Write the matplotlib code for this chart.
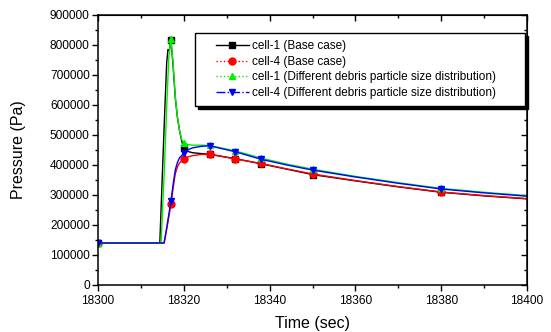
import matplotlib
matplotlib.use("Agg")
import matplotlib.pyplot as plt
from matplotlib.lines import Line2D
from matplotlib.legend_handler import HandlerLine2D
from matplotlib.ticker import MultipleLocator, FormatStrFormatter

plt.rcParams["font.family"] = ["Liberation Sans", "DejaVu Sans"]

# sample times where symbols are drawn
mark_t = [18300, 18317, 18320, 18326, 18332, 18338, 18350, 18380]

# cell-1, base case
t_c1_base = [18300, 18314.4, 18315, 18315.5, 18316, 18316.3, 18316.6, 18317,
             18317.5, 18318, 18318.5, 18319, 18319.5, 18320, 18321, 18322,
             18324, 18326, 18332, 18338, 18344, 18350, 18360, 18370, 18380,
             18390, 18400]
p_c1_base = [140000, 140000, 370000, 560000, 740000, 785000, 780000, 815000,
             730000, 625000, 560000, 515000, 480000, 455000, 445000, 441000,
             438000, 436000, 421000, 404000, 386000, 368000, 347000, 327000,
             309000, 297000, 287000]

# cell-4, base case
t_c4_base = [18300, 18315.4, 18316, 18317, 18317.5, 18318, 18318.5, 18319,
             18320, 18321, 18322, 18324, 18326, 18332, 18338, 18344, 18350,
             18360, 18370, 18380, 18390, 18400]
p_c4_base = [140000, 140000, 185000, 269000, 322000, 370000, 393000, 407000,
             419000, 427000, 431000, 435000, 435500, 420000, 405000, 387000,
             370000, 348000, 328000, 310000, 298000, 288000]

# cell-1, different debris particle size distribution
t_c1_psd = [18300, 18314.7, 18315.5, 18316, 18316.5, 18317, 18317.5, 18318,
            18318.5, 18319, 18319.5, 18320, 18321, 18322, 18324, 18326,
            18332, 18338, 18344, 18350, 18360, 18370, 18380, 18390, 18400]
p_c1_psd = [140000, 140000, 400000, 590000, 760000, 820000, 740000, 630000,
            560000, 515000, 485000, 474000, 468000, 466000, 466000, 465000,
            447000, 423000, 403000, 386000, 362000, 341000, 322000, 309000,
            298000]

# cell-4, different debris particle size distribution
t_c4_psd = [18300, 18315.4, 18316, 18317, 18317.5, 18318, 18318.5, 18319,
            18320, 18321, 18322, 18324, 18326, 18332, 18338, 18344, 18350,
            18360, 18370, 18380, 18390, 18400]
p_c4_psd = [140000, 140000, 190000, 280000, 335000, 383000, 408000, 424000,
            439000, 451000, 457000, 462000, 464000, 444000, 419000, 400000,
            383000, 360000, 339000, 320000, 307000, 296000]

labels = ["cell-1 (Base case)",
          "cell-4 (Base case)",
          "cell-1 (Different debris particle size distribution)",
          "cell-4 (Different debris particle size distribution)"]


def marks(t):
    return [i for i, v in enumerate(t) if v in mark_t]


fig = plt.figure(figsize=(5.51, 3.32), dpi=100)
ax = fig.add_axes([0.1779, 0.1416, 0.7786, 0.8133])

# (times, values, colour, legend line style, marker)
series = [
    (t_c1_base, p_c1_base, "black", "-", "s"),
    (t_c4_base, p_c4_base, "red", ":", "o"),
    (t_c1_psd, p_c1_psd, "#00ee00", ":", "^"),
    (t_c4_psd, p_c4_psd, "blue", "-.", "v"),
]
handles = []
for t, p, c, ls, m in series:
    # the traces are densely sampled, so on the plot they read as solid
    ax.plot(t, p, color=c, linestyle="-", linewidth=1.0, marker=m,
            markersize=5, markevery=marks(t), markerfacecolor=c,
            markeredgecolor=c)
    handles.append(Line2D([], [], color=c, linestyle=ls, linewidth=1.0,
                          marker=m, markersize=5, markerfacecolor=c,
                          markeredgecolor=c))

ax.set_xlim(18300, 18400)
ax.set_ylim(0, 900000)
ax.xaxis.set_major_locator(MultipleLocator(20))
ax.xaxis.set_minor_locator(MultipleLocator(10))
ax.yaxis.set_major_locator(MultipleLocator(100000))
ax.yaxis.set_minor_locator(MultipleLocator(50000))
ax.yaxis.set_major_formatter(FormatStrFormatter("%d"))
ax.xaxis.set_major_formatter(FormatStrFormatter("%d"))
ax.tick_params(which="both", direction="out", labelsize=8.6, width=1,
               pad=2, colors="black")
ax.tick_params(axis="x", pad=3)
ax.tick_params(which="major", length=4)
ax.tick_params(which="minor", length=2.5)
for s in ax.spines.values():
    s.set_linewidth(1.1)

# mirrored ticks pointing inward on top and right
top = ax.secondary_xaxis("top")
top.xaxis.set_major_locator(MultipleLocator(20))
top.xaxis.set_minor_locator(MultipleLocator(10))
top.tick_params(which="both", direction="in", labeltop=False, width=1)
top.tick_params(which="major", length=4)
top.tick_params(which="minor", length=2.5)
right = ax.secondary_yaxis("right")
right.yaxis.set_major_locator(MultipleLocator(100000))
right.yaxis.set_minor_locator(MultipleLocator(50000))
right.tick_params(which="both", direction="in", labelright=False, width=1)
right.tick_params(which="major", length=4)
right.tick_params(which="minor", length=2.5)

ax.set_xlabel("Time (sec)", fontsize=11.5, labelpad=7)
ax.set_ylabel("Pressure (Pa)", fontsize=11.5, labelpad=17)

leg = ax.legend(handles, labels, loc="upper left",
                bbox_to_anchor=(0.226, 0.674, 0.769, 0.259),
                mode="expand", fontsize=8.5, frameon=True, fancybox=False,
                shadow={"color": "black", "alpha": 1.0},
                handler_map={Line2D: HandlerLine2D(numpoints=1, xpad=1.15)},
                handlelength=4.0, handletextpad=0.25, labelspacing=0.3,
                borderaxespad=0, borderpad=0.6)
leg.get_frame().set_edgecolor("black")
leg.get_frame().set_linewidth(1.0)

fig.savefig("out.png", dpi=100)
